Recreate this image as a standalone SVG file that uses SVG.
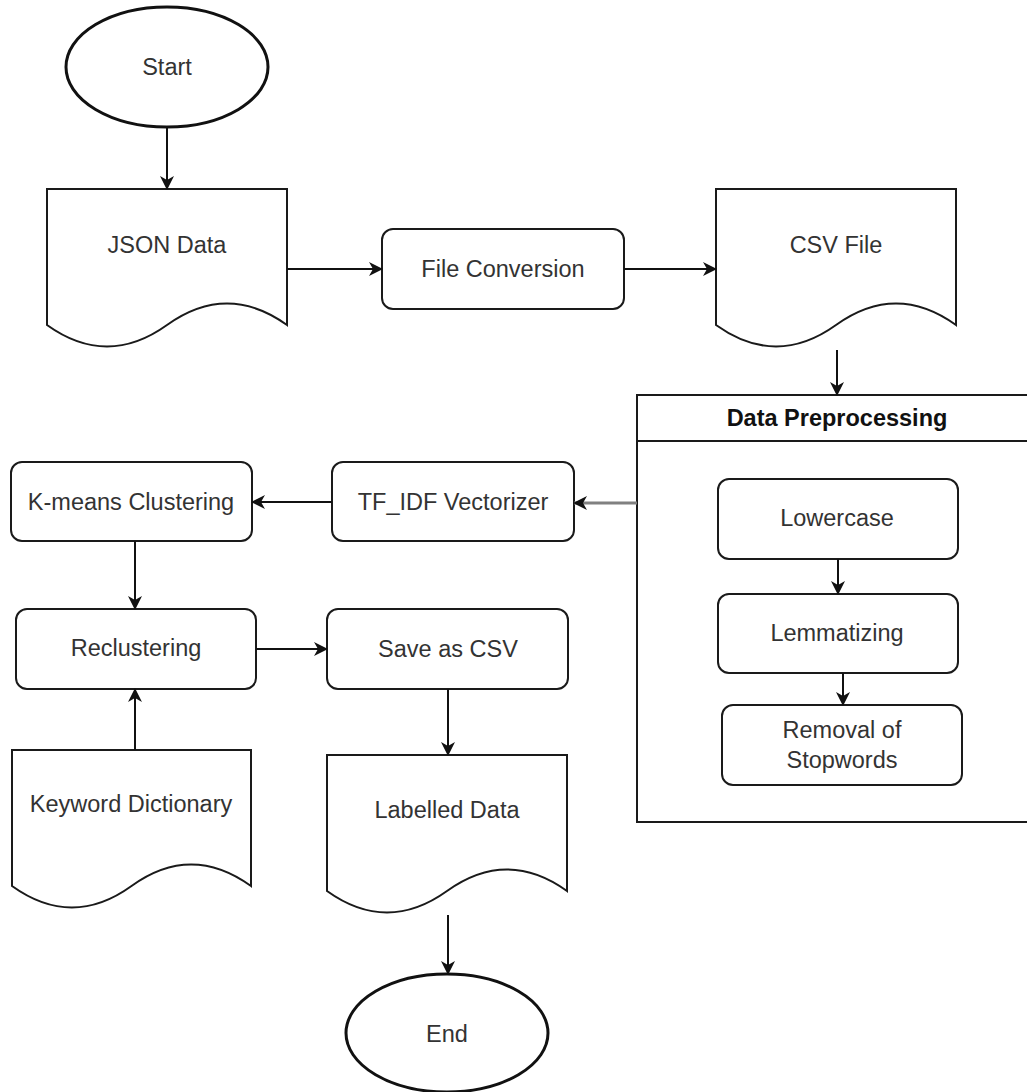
<svg xmlns="http://www.w3.org/2000/svg" width="1027" height="1092" viewBox="0 0 1027 1092">
<style>
.shape{fill:#fff;stroke:#1a1a1a;stroke-width:2}
.term{fill:#fff;stroke:#111;stroke-width:3}
.lbl{font-family:"Liberation Sans",Arial,sans-serif;font-size:23.5px;fill:#333;text-anchor:middle;dominant-baseline:central}
.bold{font-weight:bold;fill:#111}
.conn{fill:none;stroke:#111;stroke-width:2}
.conn-gray{fill:none;stroke:#808080;stroke-width:3}
</style>
<defs>
<marker id="arr" markerUnits="userSpaceOnUse" viewBox="0 0 14 14" markerWidth="14" markerHeight="14" refX="13" refY="7" orient="auto">
<path d="M0,0 L14,7 L0,14 L4,7 Z" fill="#111"/>
</marker>
</defs>
<rect width="1027" height="1092" fill="#fff"/>

<g id="start">
<ellipse class="term" cx="167" cy="67" rx="101" ry="60"/>
<text class="lbl" x="167" y="67">Start</text>
</g>

<g id="json-data">
<path class="shape" d="M47,189 H287 V325 Q227,282 167,325 Q107,368 47,325 Z"/>
<text class="lbl" x="167" y="245">JSON Data</text>
</g>

<g id="file-conversion">
<rect class="shape" x="382" y="229" width="242" height="80" rx="11"/>
<text class="lbl" x="503" y="269">File Conversion</text>
</g>

<g id="csv-file">
<path class="shape" d="M716,189 H956 V325 Q896,282 836,325 Q776,368 716,325 Z"/>
<text class="lbl" x="836" y="245">CSV File</text>
</g>

<g id="data-preprocessing">
<path class="shape" d="M1040,395 H637 V822 H1040"/>
<path class="shape" d="M637,441 H1040"/>
<text class="lbl bold" x="837" y="418">Data Preprocessing</text>
</g>

<g id="lowercase">
<rect class="shape" x="718" y="479" width="240" height="80" rx="11"/>
<text class="lbl" x="837" y="518">Lowercase</text>
</g>

<g id="lemmatizing">
<rect class="shape" x="718" y="594" width="240" height="79" rx="11"/>
<text class="lbl" x="837" y="633">Lemmatizing</text>
</g>

<g id="removal-stopwords">
<rect class="shape" x="722" y="705" width="240" height="80" rx="11"/>
<text class="lbl" x="842" y="730">Removal of</text>
<text class="lbl" x="842" y="760">Stopwords</text>
</g>

<g id="tfidf">
<rect class="shape" x="332" y="462" width="242" height="79" rx="11"/>
<text class="lbl" x="453" y="502">TF_IDF Vectorizer</text>
</g>

<g id="kmeans">
<rect class="shape" x="11" y="462" width="241" height="79" rx="11"/>
<text class="lbl" x="131" y="502">K-means Clustering</text>
</g>

<g id="reclustering">
<rect class="shape" x="16" y="609" width="240" height="80" rx="11"/>
<text class="lbl" x="136" y="648">Reclustering</text>
</g>

<g id="save-csv">
<rect class="shape" x="327" y="609" width="241" height="80" rx="11"/>
<text class="lbl" x="448" y="649">Save as CSV</text>
</g>

<g id="keyword-dictionary">
<path class="shape" d="M12,750 H251 V886 Q191,843 131.5,886 Q72,929 12,886 Z"/>
<text class="lbl" x="131" y="804">Keyword Dictionary</text>
</g>

<g id="labelled-data">
<path class="shape" d="M327,755 H567 V891 Q507,848 447,891 Q387,934 327,891 Z"/>
<text class="lbl" x="447" y="810">Labelled Data</text>
</g>

<g id="end">
<ellipse class="term" cx="447" cy="1033" rx="101" ry="59"/>
<text class="lbl" x="447" y="1034">End</text>
</g>

<g id="connectors">
<path class="conn" d="M167,127 V189" marker-end="url(#arr)"/>
<path class="conn" d="M287,269 H382" marker-end="url(#arr)"/>
<path class="conn" d="M624,269 H716" marker-end="url(#arr)"/>
<path class="conn" d="M837,350 V395" marker-end="url(#arr)"/>
<path class="conn-gray" d="M637,503 H574" marker-end="url(#arr)"/>
<path class="conn" d="M332,502 H252" marker-end="url(#arr)"/>
<path class="conn" d="M135,541 V609" marker-end="url(#arr)"/>
<path class="conn" d="M135,750 V689" marker-end="url(#arr)"/>
<path class="conn" d="M256,649 H327" marker-end="url(#arr)"/>
<path class="conn" d="M448,689 V755" marker-end="url(#arr)"/>
<path class="conn" d="M838,559 V594" marker-end="url(#arr)"/>
<path class="conn" d="M843,673 V705" marker-end="url(#arr)"/>
<path class="conn" d="M448,915 V974" marker-end="url(#arr)"/>
</g>
</svg>
